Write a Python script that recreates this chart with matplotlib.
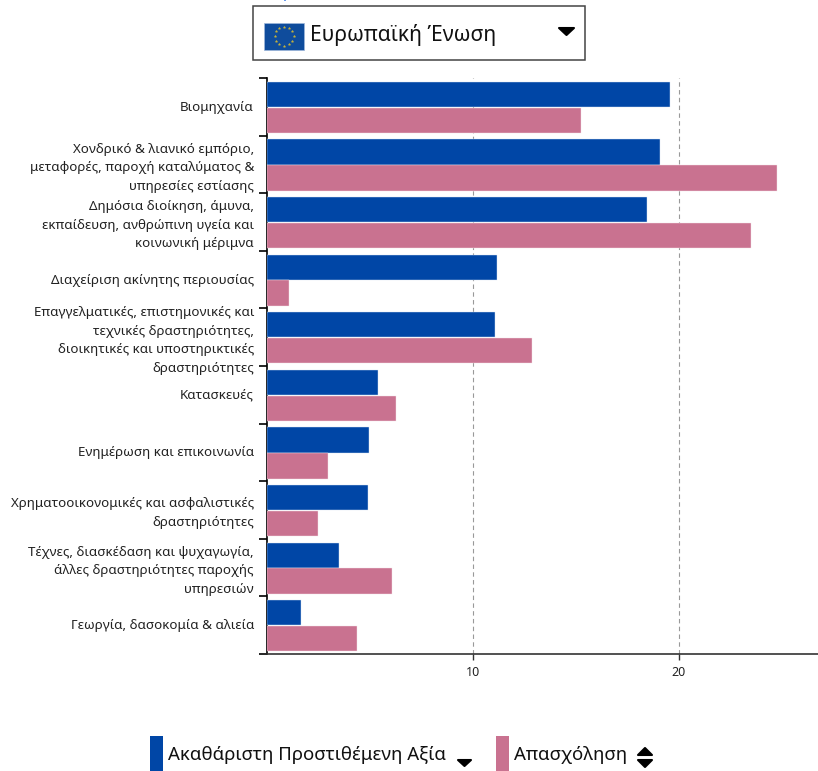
import matplotlib
matplotlib.use('Agg')
import matplotlib.pyplot as plt
import matplotlib.patches as mpatches
import matplotlib.transforms as mtrans
import numpy as np

plt.rcParams['font.family'] = ['Noto Sans', 'DejaVu Sans']

BLUE = '#0046A6'
PINK = '#C97290'
W, H = 818, 771

categories = [
    'Βιομηχανία',
    'Χονδρικό & λιανικό εμπόριο,\nμεταφορές, παροχή καταλύματος &\nυπηρεσίες εστίασης',
    'Δημόσια διοίκηση, άμυνα,\nεκπαίδευση, ανθρώπινη υγεία και\nκοινωνική μέριμνα',
    'Διαχείριση ακίνητης περιουσίας',
    'Επαγγελματικές, επιστημονικές και\nτεχνικές δραστηριότητες,\nδιοικητικές και υποστηρικτικές\nδραστηριότητες',
    'Κατασκευές',
    'Ενημέρωση και επικοινωνία',
    'Χρηματοοικονομικές και ασφαλιστικές\nδραστηριότητες',
    'Τέχνες, διασκέδαση και ψυχαγωγία,\nάλλες δραστηριότητες παροχής\nυπηρεσιών',
    'Γεωργία, δασοκομία & αλιεία',
]
gva = [19.56, 19.08, 18.45, 11.17, 11.07, 5.39, 4.95, 4.88, 3.5, 1.65]
employment = [15.24, 24.76, 23.5, 1.07, 12.86, 6.26, 2.96, 2.48, 6.07, 4.37]
x_ticks = [10, 20]

fig = plt.figure(figsize=(W / 100, H / 100), dpi=100, facecolor='white')

# main chart
ax = fig.add_axes([267 / W, 1 - 654 / H, (W - 267) / W, (654 - 78) / H])
y = np.arange(len(categories))
ax.barh(y - 0.215, gva, height=0.44, color=BLUE, edgecolor='#DCE6F5', linewidth=0.3, zorder=3)
ax.barh(y + 0.235, employment, height=0.44, color=PINK, edgecolor='#F5E3EA', linewidth=0.3, zorder=3)
ax.set_xlim(0, (W - 267) / 20.6)
ax.set_ylim(len(categories) - 0.5, -0.5)

ax.set_xticks(x_ticks)
ax.tick_params(axis='x', length=4.5, width=1, color='#333333', labelsize=9, labelcolor='#222222', pad=4.5)
ax.set_yticks(np.arange(len(categories) + 1) - 0.5)
ax.set_yticklabels([])
ax.tick_params(axis='y', which='major', length=5.8, width=1.2, color='black')
ax.set_yticks(y, minor=True)
ax.set_yticklabels(categories, minor=True, fontsize=9.6, color='#222222', ha='right',
                   linespacing=1.55)
ax.tick_params(axis='y', which='minor', length=0, pad=9.4)
# labels sit a pixel above the band centre in the original
up = mtrans.ScaledTranslation(0, 1 / 100, fig.dpi_scale_trans)
for lab in ax.get_yticklabels(minor=True):
    lab.set_transform(lab.get_transform() + up)

ax.grid(axis='x', color='#999999', linestyle=(0, (4, 3)), linewidth=0.8, zorder=1)
ax.set_axisbelow(True)
ax.spines[['top', 'right']].set_visible(False)
ax.spines['left'].set_linewidth(1.2)
ax.spines['left'].set_color('black')
ax.spines['bottom'].set_linewidth(1.2)
ax.spines['bottom'].set_color('#333333')

# page furniture in pixel coordinates
over = fig.add_axes([0, 0, 1, 1], facecolor='none')
over.set_xlim(0, W)
over.set_ylim(H, 0)
over.axis('off')


def arrow(points):
    over.add_patch(mpatches.Polygon(points, fc='black', ec='black', lw=1.5, joinstyle='round'))


over.add_patch(mpatches.Rectangle((284, 0), 2, 1, fc='#6B9BEA', ec='none'))
over.add_patch(mpatches.Rectangle((253, 6), 332, 54, fc='white', ec='#444444', lw=1.1))
over.add_patch(mpatches.Rectangle((264, 23), 40, 26.5, fc='#0F4C9C', ec='#9DB7DA', lw=0.5))
angles = np.deg2rad(np.arange(0, 360, 30))
over.scatter(284 + 9.5 * np.cos(angles), 36 + 9.5 * np.sin(angles), s=3, marker='*',
             color='#C9B53A', linewidths=0.3)
over.text(310, 35, 'Ευρωπαϊκή Ένωση', fontsize=15.2, color='#111111', va='center')
arrow([(559, 28), (574, 28), (566.5, 35)])

over.add_patch(mpatches.Rectangle((150, 736), 13, 35, fc=BLUE, ec='none'))
over.text(168, 755.5, 'Ακαθάριστη Προστιθέμενη Αξία', fontsize=13.45, color='#111111', va='center')
arrow([(458, 760), (471, 760), (464.5, 766)])
over.add_patch(mpatches.Rectangle((496, 736), 13, 35, fc=PINK, ec='none'))
over.text(514, 755.5, 'Απασχόληση', fontsize=13.45, color='#111111', va='center')
arrow([(638, 755), (652, 755), (645, 748)])
arrow([(638, 760), (652, 760), (645, 767)])

fig.savefig('out.png', dpi=100, facecolor='white')
plt.close(fig)
